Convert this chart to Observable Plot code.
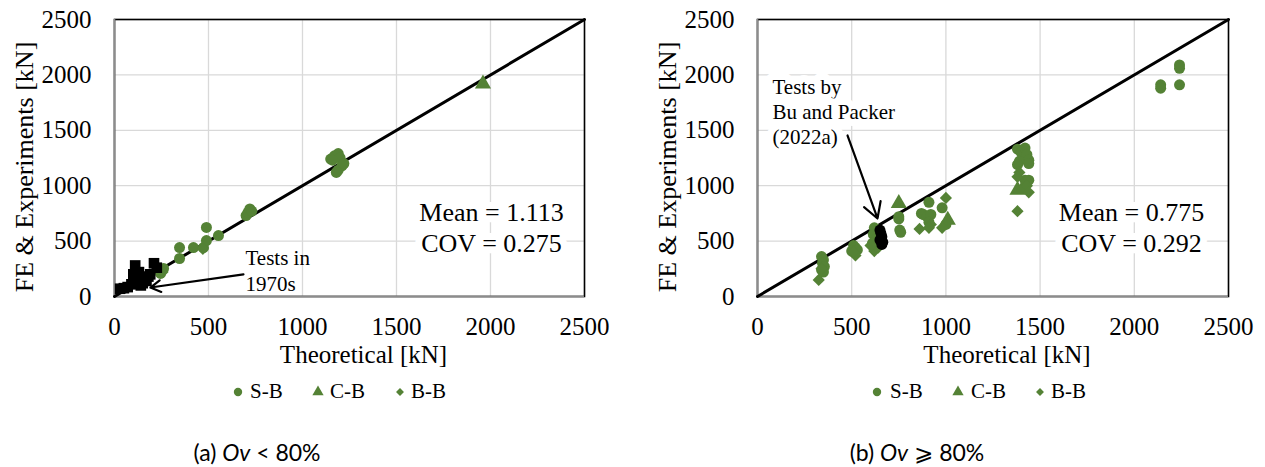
<!DOCTYPE html>
<html><head><meta charset="utf-8">
<script src="https://cdn.jsdelivr.net/npm/d3@7"></script>
<script src="https://cdn.jsdelivr.net/npm/@observablehq/plot@0.6"></script>
<style>
body{margin:0;background:#fff;}
#wrap{position:relative;width:1265px;height:467px;overflow:hidden;background:#fff;}
.panel{position:absolute;top:0;}
.leg{position:absolute;font-family:"Liberation Serif";font-size:21px;line-height:1;color:#000;white-space:nowrap;}
.caption{position:absolute;top:438px;font-family:Lato,"DejaVu Sans",sans-serif;font-size:23px;color:#000;white-space:nowrap;transform:translateX(-50%);}
</style></head>
<body><div id="wrap"></div>
<script>
// ---------- data (kN) ----------
const axisTicks = [0, 500, 1000, 1500, 2000, 2500];
const diagonal = [0, 2500];

// Panel (a) Ov < 80%
const leftSB = [[245,208],[261,253],[346,343],[346,442],[420,442],[473,442],[489,505],[489,623],[553,550],
  [700,730],[710,760],[720,790],[730,770],[1150,1240],[1170,1270],[1190,1290],[1200,1250],[1210,1180],
  [1190,1140],[1180,1120],[1220,1200],[1160,1230]];
const leftCB = [[1960,1920]];
const leftBB = [[470,430],[255,220]];
const left1970s = [[30,70],[50,75],[70,85],[90,110],[100,200],[110,280],[120,160],[130,220],[150,120],
  [170,140],[190,200],[210,300],[225,260],[180,180],[140,100]];

// Panel (b) Ov >= 80%
const rightSB = [[340,360],[350,330],[345,300],[355,270],[340,240],[350,220],[510,460],[520,440],[500,410],[530,420],
  [620,620],[615,560],[630,520],[610,480],[750,720],[750,700],[755,600],[760,580],[870,750],[880,740],[900,720],
  [910,850],[920,740],[910,670],[980,800],[1000,650],[1380,1330],[1400,1300],[1420,1340],[1430,1280],[1390,1220],
  [1440,1230],[1380,1190],[1440,1200],[1420,1050],[1440,1050],[2140,1910],[2140,1880],[2240,2090],[2240,2060],[2240,1910]];
const rightCB = [[750,840],[1010,690],[1380,960],[1410,980]];
const rightBB = [[325,150],[340,250],[520,370],[510,400],[620,410],[640,440],[600,460],[860,610],[920,650],[910,620],
  [1000,890],[980,620],[1390,1120],[1380,1080],[1430,1000],[1440,940],[1380,770]];
const rightBuPacker = [[650,600],[655,570],[660,540],[650,510],[665,490],[660,470]];

// annotation arrows (kN)
const leftArrow = [{x1:686, y1:199, x2:191, y2:81}];
const rightArrow = [{x1:478, y1:1453, x2:637, y2:704}];

const legendLabels = ["S-B", "C-B", "B-B"];
const statsLeft = ["Mean = 1.113", "COV = 0.275"];
const statsRight = ["Mean = 0.775", "COV = 0.292"];
const noteLeft = ["Tests in", "1970s"];
const noteRight = ["Tests by", "Bu and Packer", "(2022a)"];

const GREEN = "#548235";

function panel(cfg) {
  const halo = {stroke:"white", strokeWidth:14, fill:"black", lineAnchor:"middle"};
  const noteStyle = cfg.noteHalo ? halo : {fill:"black", lineAnchor:"middle"};
  return Plot.plot({
    width: cfg.width, height: 370,
    marginLeft: cfg.ml, marginRight: cfg.mr, marginTop: 19, marginBottom: 74,
    x: {domain:[0,2500], label:null},
    y: {domain:[0,2500], label:null},
    style: {fontFamily:"Liberation Serif", fontSize:"25px", color:"#000", background:"transparent", overflow:"visible"},
    marks: [
      Plot.gridX(axisTicks, {stroke:"#d9d9d9", strokeOpacity:1, strokeWidth:1.3}),
      Plot.gridY(axisTicks, {stroke:"#d9d9d9", strokeOpacity:1, strokeWidth:1.3}),
      Plot.axisX(axisTicks, {tickSize:0, tickPadding:21, tickFormat:d=>String(d), fontSize:25, label:null}),
      Plot.axisY(axisTicks, {tickSize:0, tickPadding:23, tickFormat:d=>String(d), fontSize:25, label:null}),
      // stats box
      Plot.text([cfg.stats[0]], {text:d=>d, frameAnchor:"top-right", textAnchor:"middle", dx:cfg.statsDx, dy:193, fontSize:26, ...halo}),
      Plot.text([cfg.stats[1]], {text:d=>d, frameAnchor:"top-right", textAnchor:"middle", dx:cfg.statsDx, dy:224, fontSize:26, ...halo}),
      // notes
      ...cfg.notes.map((t,i)=>Plot.text([t], {text:d=>d, frameAnchor:"top-left", textAnchor:"start", dx:cfg.noteDx, dy:cfg.noteDy + i*cfg.noteGap, fontSize:21, ...noteStyle})),
      Plot.frame({stroke:"#000", strokeWidth:1.6}),
      Plot.ruleX([0], {stroke:"#8c8c8c", strokeWidth:1.6}),
      Plot.ruleY([0], {stroke:"#8c8c8c", strokeWidth:1.6}),
      Plot.line(diagonal, {x:d=>d, y:d=>d, stroke:"#000", strokeWidth:3}),
      ...cfg.series.map(s => Plot.dot(s.data, {x:d=>d[0], y:d=>d[1], symbol:s.symbol, r:s.r, fill:s.fill, stroke:"none"})),
      Plot.arrow(cfg.arrow, {x1:"x1", y1:"y1", x2:"x2", y2:"y2", stroke:"#000", strokeWidth:2.2, headLength:cfg.head}),
      // axis titles
      Plot.text(["Theoretical [kN]"], {text:d=>d, frameAnchor:"bottom", textAnchor:"middle", lineAnchor:"middle", dx:14, dy:58, fontSize:25}),
      Plot.text(["FE & Experiments [kN]"], {text:d=>d, frameAnchor:"left", textAnchor:"middle", lineAnchor:"middle", rotate:-90, dx:-90, dy:9, fontSize:26})
    ]
  });
}

const wrap = document.getElementById("wrap");

const pa = panel({
  width:632, ml:114, mr:48, stats:statsLeft, statsDx:-93,
  notes:noteLeft, noteDx:131, noteDy:239, noteGap:26, noteHalo:false, arrow:leftArrow, head:8,
  series:[
    {data:leftSB, symbol:"circle", r:5.5, fill:GREEN},
    {data:leftCB, symbol:"triangle", r:6, fill:GREEN},
    {data:leftBB, symbol:"diamond2", r:5.5, fill:GREEN},
    {data:left1970s, symbol:"square", r:6, fill:"#000"}
  ]
});
pa.classList.add("panel"); pa.style.left = "0px";
wrap.appendChild(pa);

const pb = panel({
  width:633, ml:125, mr:37, stats:statsRight, statsDx:-97,
  notes:noteRight, noteDx:15, noteDy:68, noteGap:25, noteHalo:true, arrow:rightArrow, head:12,
  series:[
    {data:rightSB, symbol:"circle", r:5.5, fill:GREEN},
    {data:rightCB, symbol:"triangle", r:6, fill:GREEN},
    {data:rightBB, symbol:"diamond2", r:5.5, fill:GREEN},
    {data:rightBuPacker, symbol:"circle", r:5.5, fill:"#000"}
  ]
});
pb.classList.add("panel"); pb.style.left = "632px";
wrap.appendChild(pb);

// legends
const legSymbols = [d3.symbolCircle, d3.symbolTriangle, d3.symbolDiamond2];
function legend(symX, textX) {
  legendLabels.forEach((lab, i) => {
    const svg = d3.create("svg").attr("width", 14).attr("height", 14)
      .style("position","absolute").style("left",(symX[i]-7)+"px").style("top",(392-7)+"px");
    svg.append("path").attr("transform","translate(7,7)")
      .attr("d", d3.symbol(legSymbols[i], i===2 ? 40 : 55)()).attr("fill", GREEN);
    wrap.appendChild(svg.node());
    const t = document.createElement("div");
    t.className = "leg"; t.textContent = lab;
    t.style.left = textX[i] + "px"; t.style.top = (392-11) + "px";
    wrap.appendChild(t);
  });
}
legend([238, 318, 400], [250, 330, 411]);
legend([877, 958, 1040], [890, 971, 1051]);

// captions
function caption(x, pre, it, post) {
  const c = document.createElement("div");
  c.className = "caption"; c.style.left = x + "px";
  const i = document.createElement("i"); i.textContent = it;
  c.append(pre, i, post);
  wrap.appendChild(c);
}
caption(257, "(a) ", "Ov", " < 80%");
caption(917, "(b) ", "Ov", " \u2A7E 80%");
</script>
</body></html>
